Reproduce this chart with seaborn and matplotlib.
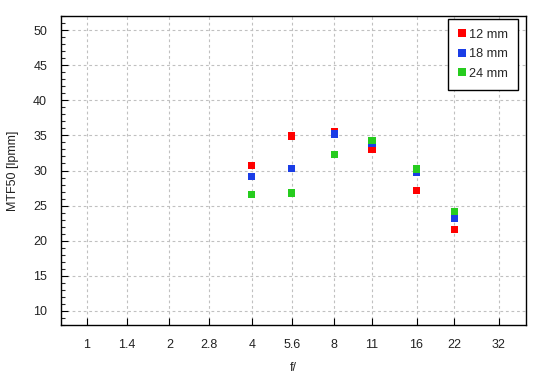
import matplotlib
matplotlib.use("Agg")
import matplotlib.pyplot as plt
import seaborn as sns
import pandas as pd
from matplotlib.ticker import MultipleLocator, FixedLocator, NullLocator

# f-stop tick labels along the x axis (log scale)
f_ticks = [1, 1.4, 2, 2.8, 4, 5.6, 8, 11, 16, 22, 32]
f_labels = ["1", "1.4", "2", "2.8", "4", "5.6", "8", "11", "16", "22", "32"]
apertures = [4, 5.6, 8, 11, 16, 22]
mtf_12 = [30.7, 34.9, 35.6, 33.0, 27.2, 21.6]
mtf_18 = [29.2, 30.3, 35.2, 33.8, 29.8, 23.2]
mtf_24 = [26.6, 26.8, 32.3, 34.3, 30.2, 24.2]
series = {"12 mm": mtf_12, "18 mm": mtf_18, "24 mm": mtf_24}
colors = {"12 mm": "#ff0000", "18 mm": "#1a3de6", "24 mm": "#26cc1e"}

rows = []
for name, vals in series.items():
    for a, v in zip(apertures, vals):
        rows.append({"f": a, "MTF50": v, "focal": name})
df = pd.DataFrame(rows)

sns.set_style("white")
plt.rcParams["font.family"] = ["Liberation Sans", "DejaVu Sans"]

fig = plt.figure(figsize=(5.5, 3.8), dpi=100)
ax = fig.add_axes([61/550, 1-325/380, (526-61)/550, (325-16)/380])

sns.scatterplot(data=df, x="f", y="MTF50", hue="focal", palette=colors,
                marker="s", s=27, linewidth=0, ax=ax, zorder=3)

ax.set_xscale("log", base=2)
ax.set_xlim(0.8037, 40.2)
ax.xaxis.set_major_locator(FixedLocator(f_ticks))
ax.xaxis.set_minor_locator(NullLocator())
ax.set_xticklabels(f_labels)
ax.set_ylim(8, 52)
ax.yaxis.set_major_locator(FixedLocator([10, 15, 20, 25, 30, 35, 40, 45, 50]))
ax.yaxis.set_minor_locator(MultipleLocator(1))

ax.grid(True, which="major", linestyle=(0, (2.5, 2.5)), color="#c0c0c0", linewidth=0.8)
ax.tick_params(axis="both", which="major", direction="in", length=5, width=0.8,
               labelsize=9, colors="#000000", labelcolor="#222222", pad=10)
ax.tick_params(axis="y", which="minor", direction="in", length=3, width=0.8, left=True)
ax.tick_params(axis="x", bottom=True)
ax.tick_params(axis="y", left=True)
for sp in ax.spines.values():
    sp.set_color("black")
    sp.set_linewidth(1.0)

ax.set_xlabel("f/", fontsize=9, color="#222222", labelpad=8)
ax.set_ylabel("MTF50 [lpmm]", fontsize=9, color="#222222", labelpad=10)

leg = ax.legend(loc="upper right", bbox_to_anchor=((518-61)/465, 1-(19-16)/309),
                frameon=True, fancybox=False, fontsize=9.2,
                handletextpad=0.3, handlelength=0.6, borderpad=0.75,
                labelspacing=0.6, borderaxespad=0.0, markerscale=1.0)
leg.get_frame().set_edgecolor("black")
leg.get_frame().set_linewidth(1.0)
leg.get_frame().set_alpha(1)

fig.savefig("out.png", dpi=100)
